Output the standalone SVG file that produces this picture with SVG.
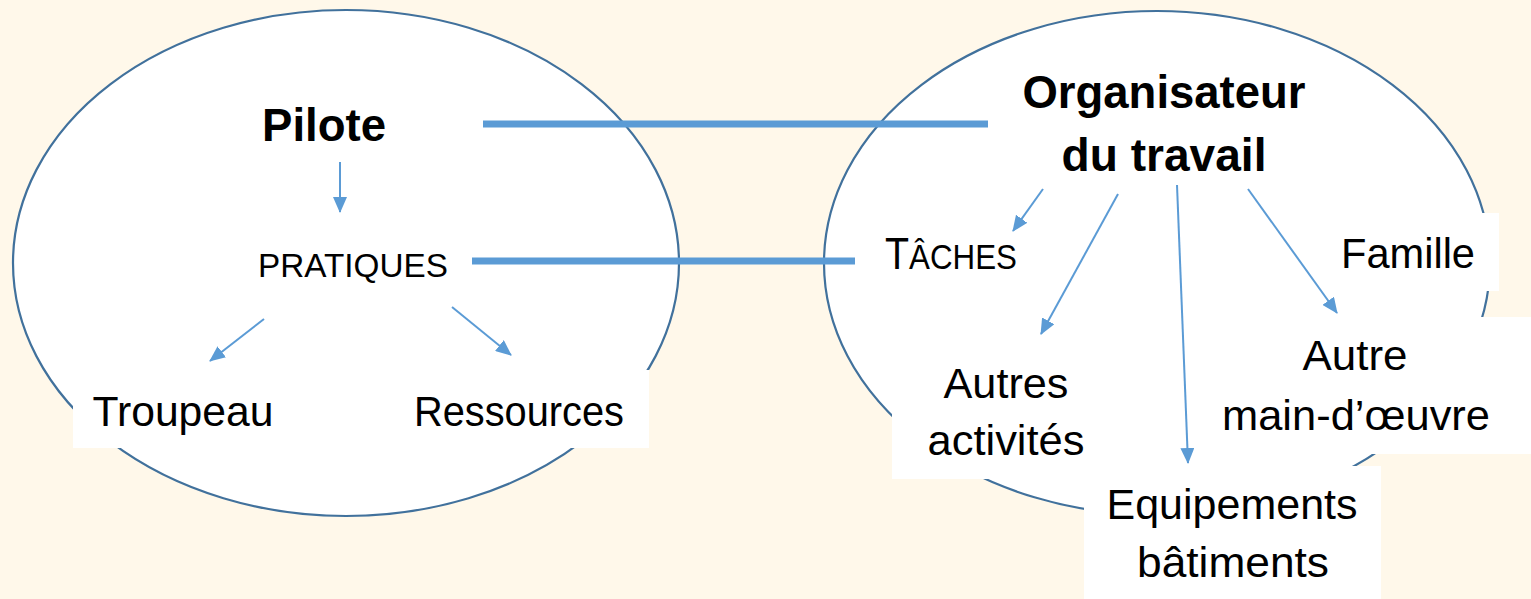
<svg xmlns="http://www.w3.org/2000/svg" width="1531" height="599" viewBox="0 0 1531 599">
<style>
.bg{fill:#FFF8EA}
.ell{fill:#FFFFFF;stroke:#41719C;stroke-width:2.2}
.box{fill:#FFFFFF}
.t{font-family:"Liberation Sans",Arial,sans-serif;fill:#000;font-size:42px;text-anchor:middle}
.b{font-weight:bold;font-size:46px}
.thick{stroke:#5B9BD5;stroke-width:7;fill:none}
.arr{stroke:#5B9BD5;stroke-width:2;fill:none;marker-end:url(#ah)}
</style>
<defs>
<marker id="ah" markerUnits="userSpaceOnUse" markerWidth="16" markerHeight="14" refX="15" refY="7" orient="auto" viewBox="0 0 16 14">
<path d="M0,0 L16,7 L0,14 z" fill="#5B9BD5"/>
</marker>
</defs>
<rect class="bg" x="0" y="0" width="1531" height="599"/>
<g id="cercle-pilote"><ellipse class="ell" cx="346" cy="263" rx="333" ry="253"/></g>
<g id="cercle-organisateur"><ellipse class="ell" cx="1157" cy="263" rx="333" ry="252"/></g>
<g id="pilote"><text class="t b" x="324" y="141" textLength="124" lengthAdjust="spacingAndGlyphs">Pilote</text></g>
<g id="pratiques"><text class="t" x="353" y="277" style="font-size:33px" textLength="190" lengthAdjust="spacingAndGlyphs">PRATIQUES</text></g>
<g id="troupeau"><rect class="box" x="73" y="370" width="220" height="78"/><text class="t" x="183" y="426" textLength="181" lengthAdjust="spacingAndGlyphs">Troupeau</text></g>
<g id="ressources"><rect class="box" x="395" y="370" width="254" height="78"/><text class="t" x="519" y="426" textLength="210" lengthAdjust="spacingAndGlyphs">Ressources</text></g>
<g id="organisateur"><text class="t b" x="1164" y="108" textLength="283" lengthAdjust="spacingAndGlyphs">Organisateur</text><text class="t b" x="1164" y="171" textLength="205" lengthAdjust="spacingAndGlyphs">du travail</text></g>
<g id="taches"><text class="t" x="885" y="269" style="text-anchor:start" textLength="132" lengthAdjust="spacingAndGlyphs"><tspan style="font-size:44px">T</tspan><tspan style="font-size:35px">ÂCHES</tspan></text></g>
<g id="famille"><rect class="box" x="1325" y="213" width="174" height="78"/><text class="t" x="1408" y="268" textLength="134" lengthAdjust="spacingAndGlyphs">Famille</text></g>
<g id="autre-main-oeuvre"><rect class="box" x="1205" y="317" width="326" height="137"/><text class="t" x="1355" y="370" textLength="105" lengthAdjust="spacingAndGlyphs">Autre</text><text class="t" x="1356" y="430" textLength="268" lengthAdjust="spacingAndGlyphs">main-d’œuvre</text></g>
<g id="autres-activites"><rect class="box" x="892" y="340" width="210" height="139"/><text class="t" x="1006" y="398" textLength="125" lengthAdjust="spacingAndGlyphs">Autres</text><text class="t" x="1006" y="455" textLength="157" lengthAdjust="spacingAndGlyphs">activités</text></g>
<g id="equipements-batiments"><rect class="box" x="1084" y="466" width="297" height="133"/><text class="t" x="1232" y="519" textLength="251" lengthAdjust="spacingAndGlyphs">Equipements</text><text class="t" x="1233" y="577" textLength="192" lengthAdjust="spacingAndGlyphs">bâtiments</text></g>
<g id="connecteurs">
<line class="thick" x1="483" y1="124" x2="988" y2="124"/>
<line class="thick" x1="472" y1="261" x2="855" y2="261"/>
<line class="arr" x1="340" y1="162" x2="340" y2="212"/>
<line class="arr" x1="264" y1="319" x2="210" y2="361"/>
<line class="arr" x1="452" y1="307" x2="511" y2="355"/>
<line class="arr" x1="1043" y1="189" x2="1013" y2="231"/>
<line class="arr" x1="1118" y1="194" x2="1041" y2="334"/>
<line class="arr" x1="1177" y1="185" x2="1188" y2="463"/>
<line class="arr" x1="1248" y1="189" x2="1337" y2="313"/>
</g>
</svg>
